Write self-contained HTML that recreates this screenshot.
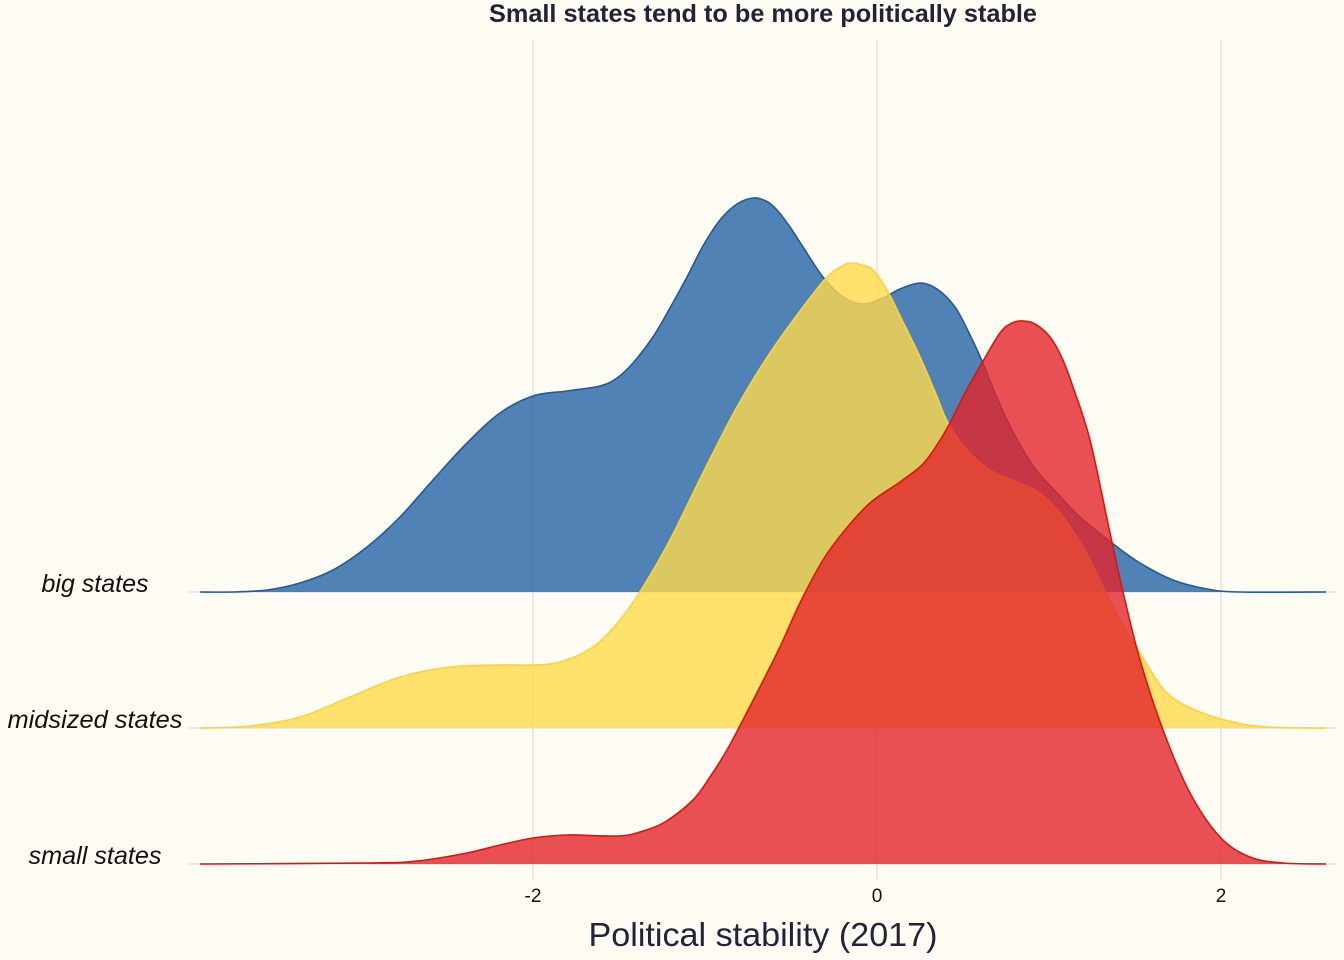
<!DOCTYPE html>
<html>
<head>
<meta charset="utf-8">
<style>
html,body{margin:0;padding:0;background:#fffcf4;}
svg{display:block;}
</style>
</head>
<body>
<svg width="1344" height="960" viewBox="0 0 1344 960" xmlns="http://www.w3.org/2000/svg">
<rect x="0" y="0" width="1344" height="960" fill="#fffcf4"/>
<!-- grid -->
<g stroke="#e4e4e4" stroke-width="1.5" fill="none">
<line x1="533" y1="40" x2="533" y2="880"/>
<line x1="877" y1="40" x2="877" y2="880"/>
<line x1="1221" y1="40" x2="1221" y2="880"/>
<line x1="189" y1="592" x2="1336" y2="592"/>
<line x1="189" y1="728" x2="1336" y2="728"/>
<line x1="189" y1="864" x2="1336" y2="864"/>
</g>
<!-- big states (blue) -->
<path class="sm" fill="#2463a5" fill-opacity="0.8" stroke="none" d="M200,592 L233,592 L267,590 L300,583 L333,570 L367,547 L400,517 L433,480 L467,443 L500,413 L533,396 L567,391 L600,386 L617,378 L633,363 L653,337 L670,308 L687,277 L703,246 L720,220 L737,204 L753,198 L766,201 L777,210 L790,227 L803,247 L823,277 L843,297 L863,304 L883,298 L900,289 L920,283 L937,289 L955,307 L970,335 L982,361 L997,398 L1013,432 L1033,466 L1057,493 L1080,517 L1112,543 L1140,563 L1173,580 L1207,589 L1240,592 L1326,592 Z"/>
<path class="sm" fill="none" stroke="#1d5a9e" stroke-width="1.6" d="M200,592 L233,592 L267,590 L300,583 L333,570 L367,547 L400,517 L433,480 L467,443 L500,413 L533,396 L567,391 L600,386 L617,378 L633,363 L653,337 L670,308 L687,277 L703,246 L720,220 L737,204 L753,198 L766,201 L777,210 L790,227 L803,247 L823,277 L843,297 L863,304 L883,298 L900,289 L920,283 L937,289 L955,307 L970,335 L982,361 L997,398 L1013,432 L1033,466 L1057,493 L1080,517 L1112,543 L1140,563 L1173,580 L1207,589 L1240,592 L1326,592"/>
<!-- midsized states (yellow) -->
<path class="sm" fill="#ffd94c" fill-opacity="0.8" stroke="none" d="M200,728 L250,726 L300,717 L350,697 L400,677 L450,667 L500,665 L533,665 L560,662 L593,647 L620,620 L643,587 L670,540 L703,473 L737,407 L770,353 L803,307 L827,277 L842,266 L852,263 L865,266 L873,270 L887,290 L903,322 L920,357 L935,392 L948,423 L967,450 L990,470 L1017,482 L1040,493 L1060,513 L1083,547 L1103,587 L1120,620 L1140,653 L1167,693 L1200,712 L1233,722 L1267,727 L1326,728 Z"/>
<path class="sm" fill="none" stroke="#ffd42a" stroke-width="1.6" d="M200,728 L250,726 L300,717 L350,697 L400,677 L450,667 L500,665 L533,665 L560,662 L593,647 L620,620 L643,587 L670,540 L703,473 L737,407 L770,353 L803,307 L827,277 L842,266 L852,263 L865,266 L873,270 L887,290 L903,322 L920,357 L935,392 L948,423 L967,450 L990,470 L1017,482 L1040,493 L1060,513 L1083,547 L1103,587 L1120,620 L1140,653 L1167,693 L1200,712 L1233,722 L1267,727 L1326,728"/>
<!-- small states (red) -->
<path class="sm" fill="#e2242a" fill-opacity="0.8" stroke="none" d="M200,864 L367,863 L417,861 L467,853 L500,845 L533,838 L567,835 L617,836 L640,832 L665,822 L693,800 L710,777 L727,750 L743,720 L760,687 L780,647 L800,603 L823,560 L845,530 L870,503 L900,482 L922,465 L937,445 L950,423 L965,393 L982,363 L1000,333 L1012,323 L1023,321 L1035,324 L1050,337 L1062,358 L1073,387 L1090,440 L1110,533 L1123,592 L1140,660 L1163,730 L1190,793 L1220,837 L1250,857 L1283,863 L1326,864 Z"/>
<path class="sm" fill="none" stroke="#e3120b" stroke-width="1.6" d="M200,864 L367,863 L417,861 L467,853 L500,845 L533,838 L567,835 L617,836 L640,832 L665,822 L693,800 L710,777 L727,750 L743,720 L760,687 L780,647 L800,603 L823,560 L845,530 L870,503 L900,482 L922,465 L937,445 L950,423 L965,393 L982,363 L1000,333 L1012,323 L1023,321 L1035,324 L1050,337 L1062,358 L1073,387 L1090,440 L1110,533 L1123,592 L1140,660 L1163,730 L1190,793 L1220,837 L1250,857 L1283,863 L1326,864"/>
<!-- title -->
<text x="763" y="22" text-anchor="middle" font-family="Liberation Sans, sans-serif" font-weight="bold" font-size="25" fill="#22223a" textLength="548" lengthAdjust="spacingAndGlyphs">Small states tend to be more politically stable</text>
<!-- y labels -->
<g font-family="Liberation Sans, sans-serif" font-style="italic" font-size="25" fill="#111" text-anchor="middle">
<text x="95" y="592" textLength="107" lengthAdjust="spacingAndGlyphs">big states</text>
<text x="95" y="728" textLength="175" lengthAdjust="spacingAndGlyphs">midsized states</text>
<text x="95" y="864" textLength="133" lengthAdjust="spacingAndGlyphs">small states</text>
</g>
<!-- x ticks -->
<g font-family="Liberation Sans, sans-serif" font-size="19" fill="#111" text-anchor="middle">
<text x="533" y="902">-2</text>
<text x="877" y="902">0</text>
<text x="1221" y="902">2</text>
</g>
<text x="763" y="946" text-anchor="middle" font-family="Liberation Sans, sans-serif" font-size="33" fill="#22223a" textLength="349" lengthAdjust="spacingAndGlyphs">Political stability (2017)</text>
</svg>
<script>
(function(){
  var paths = document.querySelectorAll('path.sm');
  for (var k = 0; k < paths.length; k++) {
    var p = paths[k];
    var d = p.getAttribute('d');
    var closed = /Z\s*$/.test(d);
    var nums = d.replace(/[MLZ]/g,' ').trim().split(/[\s,]+/).map(Number);
    var pts = [];
    for (var i = 0; i + 1 < nums.length; i += 2) pts.push([nums[i], nums[i+1]]);
    var n = pts.length;
    var out = 'M' + pts[0][0] + ',' + pts[0][1];
    for (var i = 0; i < n - 1; i++) {
      var p0 = pts[Math.max(0, i-1)], p1 = pts[i], p2 = pts[i+1], p3 = pts[Math.min(n-1, i+2)];
      var c1x = p1[0] + (p2[0]-p0[0])/6, c1y = p1[1] + (p2[1]-p0[1])/6;
      var c2x = p2[0] - (p3[0]-p1[0])/6, c2y = p2[1] - (p3[1]-p1[1])/6;
      out += ' C' + c1x.toFixed(2) + ',' + c1y.toFixed(2) + ' ' + c2x.toFixed(2) + ',' + c2y.toFixed(2) + ' ' + p2[0] + ',' + p2[1];
    }
    if (closed) out += ' Z';
    p.setAttribute('d', out);
  }
})();
</script>
</body>
</html>
